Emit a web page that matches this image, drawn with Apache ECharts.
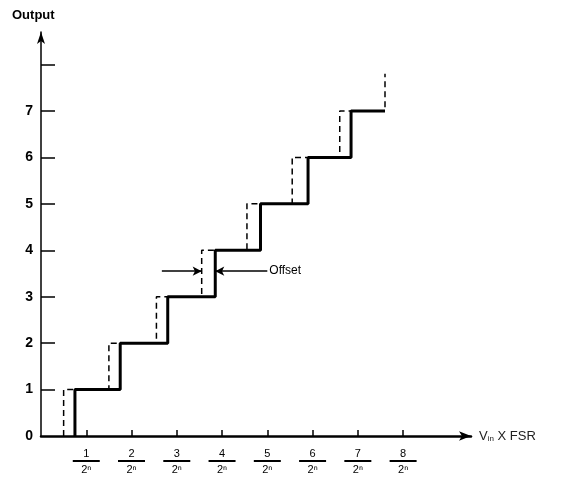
<!DOCTYPE html>
<html><head><meta charset="utf-8">
<script src="https://cdn.jsdelivr.net/npm/echarts@6/dist/echarts.min.js"></script>
<style>html,body{margin:0;padding:0;background:#fff}#c{width:571px;height:486px}</style>
</head><body><div id="c"></div>
<script>
// Output codes
const levels = [0, 1, 2, 3, 4, 5, 6, 7];
// Actual (offset) transition points, in units of FSR/2^n
const actualEdges = [0.75, 1.75, 2.8, 3.85, 4.85, 5.9, 6.85];
const actualEnd = 7.6;
// Ideal transition points (dashed)
const idealEdges = [0.5, 1.5, 2.55, 3.55, 4.55, 5.55, 6.6];
const idealEnd = 7.6;
const idealTop = 7.8;
// Tick labels
const xTickValues = [1, 2, 3, 4, 5, 6, 7, 8];
const xTickNumerators = ['1', '2', '3', '4', '5', '6', '7', '8'];
const yTickValues = [1, 2, 3, 4, 5, 6, 7, 8];
const yLabelValues = [0, 1, 2, 3, 4, 5, 6, 7];
// Offset annotation
const offsetLevel = 3.55;
const offsetLeftStart = 2.67;
const offsetRightStart = 5.0;

function stairs(edges, end) {
  const pts = [[edges[0], levels[0]]];
  edges.forEach((e, i) => {
    pts.push([e, levels[i + 1]]);
    const next = i + 1 < edges.length ? edges[i + 1] : end;
    pts.push([next, levels[i + 1]]);
  });
  return pts;
}
const actualPts = stairs(actualEdges, actualEnd);
const idealPts = stairs(idealEdges, idealEnd);
idealPts.push([idealEnd, idealTop]);

const chart = echarts.init(document.getElementById('c'));
const font = 'Liberation Sans, DejaVu Sans, sans-serif';
chart.setOption({
  animation: false,
  grid: { left: 41, right: 100, top: 32, bottom: 50 },
  xAxis: {
    type: 'value', min: 0, max: 9.5, interval: 1,
    splitLine: { show: false },
    axisLine: { lineStyle: { color: '#000', width: 2.5 }, symbol: ['none', 'arrow'], symbolSize: [7, 12] },
    axisTick: { show: true, inside: true, length: 6, lineStyle: { color: '#000', width: 1.5 }, customValues: xTickValues },
    axisLabel: {
      customValues: xTickValues,
      margin: 11,
      formatter: v => '{n|' + xTickNumerators[v - 1] + '}\n{l|}\n{d|2ⁿ}',
      rich: {
        n: { fontSize: 11, fontFamily: font, color: '#000', align: 'center', lineHeight: 13 },
        l: { width: 27, height: 2, backgroundColor: '#000', align: 'center' },
        d: { fontSize: 11, fontFamily: font, color: '#000', align: 'center', lineHeight: 15 }
      }
    },
    name: '{v|V}{s|in}{t| X FSR}',
    nameLocation: 'end', nameGap: 8,
    nameTextStyle: {
      rich: {
        v: { fontSize: 13, fontFamily: font, color: '#222' },
        s: { fontSize: 8, fontFamily: font, color: '#222', verticalAlign: 'bottom', padding: [6, 0, 0, 0] },
        t: { fontSize: 13, fontFamily: font, color: '#222' }
      }
    }
  },
  yAxis: {
    type: 'value', min: 0, max: 8.7, interval: 1,
    splitLine: { show: false },
    axisLine: { show: true, lineStyle: { color: '#000', width: 1.5 }, symbol: ['none', 'arrow'], symbolSize: [6, 12] },
    axisTick: { show: true, inside: true, length: 14, lineStyle: { color: '#000', width: 1.5 }, customValues: yTickValues },
    axisLabel: { customValues: yLabelValues, margin: 8, fontSize: 14, fontWeight: 'bold', fontFamily: font, color: '#000' }
  },
  graphic: [{
    type: 'text', left: 12, top: 9,
    style: { text: 'Output', font: 'bold 13px ' + font, fill: '#000' }
  }],
  series: [
    {
      type: 'line', data: idealPts, showSymbol: false, z: 2,
      lineStyle: { color: '#000', width: 1.5, type: [6, 4] }
    },
    {
      type: 'line', data: actualPts, showSymbol: false, z: 3,
      lineStyle: { color: '#000', width: 3 },
      markLine: {
        silent: true, symbol: ['none', 'arrow'], symbolSize: [7, 9],
        lineStyle: { color: '#000', width: 1.5, type: 'solid' },
        label: { show: false },
        data: [
          [{ coord: [offsetLeftStart, offsetLevel] }, { coord: [idealEdges[3], offsetLevel] }],
          [{ coord: [offsetRightStart, offsetLevel],
             label: { show: true, position: 'start', formatter: 'Offset', fontSize: 12, fontFamily: font, color: '#000', distance: 2 } },
           { coord: [actualEdges[3], offsetLevel] }]
        ]
      }
    }
  ]
});
</script></body></html>
